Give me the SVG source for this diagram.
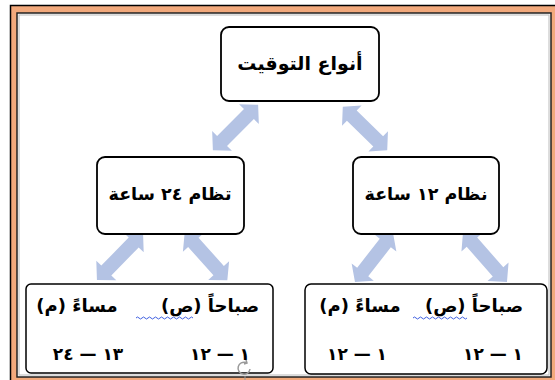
<svg xmlns="http://www.w3.org/2000/svg" xmlns:xlink="http://www.w3.org/1999/xlink" width="555" height="380" viewBox="0 0 555 380">
<style>
.box{fill:#fff;stroke:#000;stroke-width:1.8}
.t{font-family:"DejaVu Sans",sans-serif;font-weight:bold;fill:#000;text-anchor:middle;direction:rtl}
.arr{fill:#b4c3e4}
.wavy{fill:none;stroke:#4060e0;stroke-width:1}
</style>
<defs>
<path id="dbl" d="M -32 0 L -19 -14 L -19 -7 L 19 -7 L 19 -14 L 32 0 L 19 14 L 19 7 L -19 7 L -19 14 Z"/>
</defs>
<g id="frame">
<rect x="10.5" y="5.5" width="560" height="390" fill="#f2a97c" stroke="#000" stroke-width="1.5"/>
<rect x="17" y="13" width="534" height="364" fill="#fff" stroke="#222" stroke-width="1.5"/>
<rect x="19" y="15" width="530" height="360" fill="none" stroke="#bbb" stroke-width="1"/>
</g>
<g id="connectors">
<use xlink:href="#dbl" class="arr" transform="translate(235.5,127.5) rotate(-45)"/>
<use xlink:href="#dbl" class="arr" transform="translate(365,128.5) rotate(44.3) scale(0.97,1)"/>
<use xlink:href="#dbl" class="arr" transform="translate(120,256.5) rotate(-45.6) scale(1.03,1)"/>
<use xlink:href="#dbl" class="arr" transform="translate(206,256.5) rotate(48.2)"/>
<use xlink:href="#dbl" class="arr" transform="translate(374,257.5) rotate(-52.2) scale(0.97,1)"/>
<use xlink:href="#dbl" class="arr" transform="translate(485,257) rotate(48.7) scale(1.04,1)"/>
</g>
<g id="node-top">
<rect class="box" x="221" y="27" width="158" height="74" rx="8"/>
<text class="t" x="300" y="70" font-size="19">أنواع التوقيت</text>
</g>
<g id="node-24">
<rect class="box" x="97" y="157" width="147" height="77" rx="8"/>
<text class="t" x="170" y="200" font-size="17.5">تظام ٢٤ ساعة</text>
</g>
<g id="node-12">
<rect class="box" x="353" y="157" width="146" height="77" rx="8"/>
<text class="t" x="426" y="200" font-size="17.5">نظام ١٢ ساعة</text>
</g>
<g id="node-24-detail">
<rect class="box" x="26" y="284" width="247" height="89" rx="5" style="stroke-width:1.5"/>
<text class="t" x="210" y="312" font-size="18">صباحاً (ص)</text>
<text class="t" x="77" y="312" font-size="18">مساءً (م)</text>
<path class="wavy" d="M136 318 q1.5 -2 3 0 t3 0 t3 0 t3 0 t3 0 t3 0 t3 0 t3 0 t3 0 t3 0 t3 0 t3 0 t3 0 t3 0 t3 0 t3 0 t3 0 t3 0 t3 0"/>
<text class="t" x="220" y="360" font-size="17">١ — ١٢</text>
<text class="t" x="88" y="360" font-size="17">١٣ — ٢٤</text>
</g>
<g id="node-12-detail">
<rect class="box" x="305" y="284" width="242" height="90" rx="6" style="stroke-width:1.5"/>
<text class="t" x="474" y="312" font-size="18">صباحاً (ص)</text>
<text class="t" x="360" y="312" font-size="18">مساءً (م)</text>
<path class="wavy" d="M413 318 q1.5 -2 3 0 t3 0 t3 0 t3 0 t3 0 t3 0 t3 0 t3 0 t3 0 t3 0 t3 0 t3 0 t3 0 t3 0 t3 0 t3 0 t3 0 t3 0"/>
<text class="t" x="493" y="360" font-size="17">١ — ١٢</text>
<text class="t" x="357" y="360" font-size="17">١ — ١٢</text>
</g>
<g id="handle" fill="none" stroke="#999" stroke-width="1.5">
<path d="M250 369 A6 6 0 1 1 246 362.5"/>
<path d="M246 360 l1 3 l-3 1"/>
<line x1="245" y1="376" x2="245" y2="380" stroke-width="1"/>
</g>
</svg>
